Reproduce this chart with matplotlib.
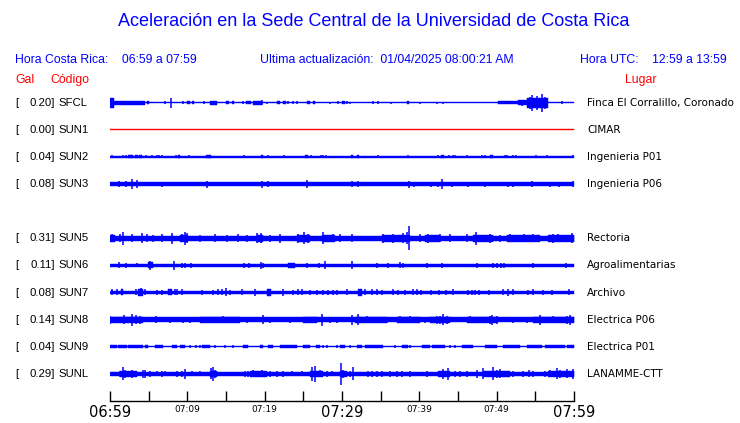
import matplotlib
matplotlib.use("Agg")
import matplotlib.pyplot as plt

W, H = 740, 423

# ---------------- data ----------------
codes = ["SFCL", "SUN1", "SUN2", "SUN3", "SUN5", "SUN6", "SUN7", "SUN8", "SUN9", "SUNL"]
gal = ["0.20", "0.00", "0.04", "0.08", "0.31", "0.11", "0.08", "0.14", "0.04", "0.29"]
places = ["Finca El Corralillo, Coronado", "CIMAR", "Ingenieria P01", "Ingenieria P06",
          "Rectoria", "Agroalimentarias", "Archivo", "Electrica P06", "Electrica P01", "LANAMME-CTT"]
rows = [0, 1, 2, 3, 5, 6, 7, 8, 9, 10]
colors = ["blue", "red", "blue", "blue", "blue", "blue", "blue", "blue", "blue", "blue"]
# half-thickness of the quiet background trace (pixels)
base_half = [0.6, 0.6, 0.6, 2.0, 2.7, 1.8, 1.8, 2.5, 0.6, 2.0]

# bursts: (start minute, end minute, half amplitude px)
sfcl_seg = [(0.0, 0.52, 5), (0.52, 4.53, 1.8), (4.74, 5.09, 1.5), (9.91, 10.34, 1.5),
            (10.56, 10.86, 1.5), (12.93, 13.79, 2), (15.0, 15.34, 1.5), (15.73, 16.03, 1.5),
            (17.59, 18.19, 1.5), (18.53, 19.61, 1.8), (21.55, 21.98, 1.5), (22.33, 22.76, 1.5),
            (25.43, 25.86, 1.5), (26.21, 26.51, 1.5), (29.96, 30.39, 1.5), (38.36, 38.66, 1.5),
            (50.17, 52.76, 1.6), (52.76, 53.9, 2.5), (53.9, 56.6, 5.0)]
sun1_seg = []
sun2_seg = [(2.37, 2.93, 1.5), (3.23, 3.58, 1.5), (3.79, 4.09, 1.5), (8.75, 9.05, 1.5),
            (12.41, 13.02, 1.5), (19.53, 19.78, 1.5), (25.22, 25.6, 1.5), (31.16, 31.46, 1.5),
            (31.9, 32.15, 1.5), (42.76, 43.23, 1.5), (49.14, 49.48, 1.5)]
sun3_seg = []
sun5_seg = [(0.0, 0.65, 3.5), (9.05, 10.13, 3.5), (18.97, 19.83, 3.5), (24.14, 25.86, 3.5),
            (27.37, 29.1, 3.5), (35.13, 38.79, 3.5), (40.73, 42.67, 3.5), (46.98, 49.57, 3.5),
            (51.29, 55.6, 3.5), (56.68, 60.0, 3.5)]
sun6_seg = [(4.96, 5.52, 3), (23.06, 23.92, 2.2)]
sun7_seg = [(1.38, 1.72, 3), (3.66, 4.22, 3.5), (7.54, 7.97, 3), (20.26, 20.78, 3.5),
            (32.11, 32.54, 3.5)]
sun8_seg = [(0.0, 4.31, 3), (11.64, 16.81, 3), (25.0, 26.72, 3), (31.68, 35.77, 3),
            (37.07, 40.09, 3), (41.38, 43.96, 3), (46.12, 50.0, 3), (54.74, 60.0, 3)]
sun9_seg = [(0.0, 0.86, 1.2), (1.08, 2.16, 1.2), (2.37, 4.31, 1.2), (4.53, 4.96, 1.2),
            (5.82, 6.9, 1.2), (7.97, 8.62, 1.2), (9.05, 9.7, 1.2), (11.85, 12.93, 1.2),
            (17.16, 17.89, 1.2), (19.4, 19.83, 1.2), (20.47, 21.12, 1.2), (21.98, 24.14, 1.2),
            (25.0, 25.86, 1.2), (26.64, 27.16, 1.2), (29.74, 30.39, 1.2), (31.9, 32.54, 1.2),
            (32.97, 35.34, 1.2), (37.71, 38.58, 1.2), (40.3, 41.38, 1.2), (41.59, 43.32, 1.6),
            (45.47, 46.98, 1.2), (48.49, 50.0, 1.2), (50.86, 53.02, 1.2), (53.88, 55.82, 1.2),
            (56.25, 58.84, 1.2), (59.05, 60.0, 1.2)]
sunl_seg = [(1.29, 3.45, 3), (12.93, 13.79, 3), (18.1, 20.26, 3), (25.86, 27.59, 3),
            (29.74, 30.6, 3), (42.46, 43.96, 3), (48.28, 51.72, 3), (56.68, 60.0, 3)]

# spikes: (minute, half amplitude px)
sfcl_spk = [(7.93, 5), (7.11, 1.5), (9.48, 1.5), (12.2, 1.5), (19.7, 2.5), (23.06, 1.5),
            (23.62, 1.5), (29.53, 1.5), (17.16, 1.5), (20.26, 1.2), (24.14, 1.5), (28.45, 1.2),
            (30.69, 1.5), (31.03, 1), (34.05, 1.5), (34.7, 1.5), (36.33, 1.2), (40.13, 1.2),
            (42.28, 1.2), (43.1, 1.2), (58.49, 1.5), (54.52, 8), (55.17, 7), (55.82, 9),
            (54.31, 6), (56.25, 6), (53.23, 3)]
sun1_spk = []
sun2_spk = [(0.26, 1.5), (1.72, 1.5), (2.07, 1.5), (4.61, 1.5), (5.47, 1.5), (6.12, 1.5),
            (6.34, 1.5), (6.68, 1.5), (8.49, 1.5), (10.26, 1.5), (17.33, 1.5), (20.47, 1.5),
            (22.54, 1.5), (25.99, 1.5), (27.28, 1.5), (27.59, 1.5), (27.89, 1.5), (34.7, 1.5),
            (38.58, 1.5), (42.37, 1.5), (43.88, 1.5), (44.4, 1.5), (44.65, 1.5), (46.16, 1.5),
            (48.15, 1.5), (48.49, 1.5), (51.08, 1.5), (51.29, 1.5), (52.07, 1.5), (52.46, 1.5),
            (55.13, 1.5), (56.55, 1.5), (59.91, 1.5)]
sun3_spk = [(1.21, 3), (2.07, 3), (2.8, 5), (3.45, 4), (6.77, 2.5), (12.59, 3.5), (19.61, 3.5),
            (20.47, 3), (25.43, 4), (31.25, 3), (32.11, 3), (38.62, 3.5), (39.31, 2.5),
            (41.46, 2.5), (42.37, 2.5), (42.97, 5), (44.27, 2.5), (46.34, 2.5), (48.53, 2.5),
            (51.51, 2.5), (52.15, 2.5), (54.61, 3), (56.94, 2.5), (58.1, 2.5), (59.83, 3)]
sun5_spk = [(0.22, 4), (1.29, 4), (1.72, 6.5), (2.8, 4), (4.09, 5), (4.83, 4), (5.6, 3.5),
            (6.68, 4), (7.97, 5.5), (9.27, 4), (9.7, 6.5), (10.0, 5), (11.64, 3.5), (13.58, 4),
            (15.09, 3.5), (16.6, 4), (17.67, 3.5), (18.97, 5), (19.48, 5), (20.69, 3.5),
            (21.98, 4.5), (24.35, 4.5), (25.09, 6), (25.65, 4.5), (27.59, 6), (28.88, 4),
            (29.74, 4), (31.25, 4), (35.34, 4.5), (36.64, 4.5), (37.93, 5), (38.36, 6),
            (38.71, 12), (40.09, 4), (41.16, 4.5), (42.67, 4), (43.96, 4), (46.12, 4),
            (47.33, 6.5), (49.14, 4.5), (50.43, 3.5), (51.72, 4), (53.53, 4), (54.74, 4),
            (57.33, 4.5), (57.97, 4), (59.7, 5)]
sun6_spk = [(1.16, 3), (2.07, 2.5), (3.53, 2), (5.17, 4.5), (8.28, 4.5), (9.27, 2.5),
            (9.74, 2.5), (10.47, 2.5), (17.33, 2.5), (17.97, 2.5), (19.53, 3.5), (19.83, 2.5),
            (25.52, 2.5), (27.07, 2.5), (27.8, 4), (31.25, 4), (34.48, 2.2), (35.99, 2.2),
            (37.5, 3), (37.84, 2.5), (40.95, 2.5), (42.89, 2.5), (47.5, 2.5), (49.57, 2.5),
            (50.09, 2.5), (50.56, 2.5), (50.99, 2.5), (54.74, 2.5), (58.96, 2.5)]
sun7_spk = [(0.22, 3), (0.86, 3), (3.36, 3), (3.97, 4), (4.53, 3), (6.03, 2.5), (6.68, 2.5),
            (8.41, 3), (8.71, 3), (9.27, 3), (11.85, 2.5), (13.36, 2.5), (14.01, 3), (14.44, 3),
            (14.96, 4), (15.52, 2.5), (17.03, 3), (18.75, 3.5), (22.41, 3.5), (23.71, 2.5),
            (24.35, 3), (24.78, 3), (25.86, 2.5), (26.72, 2.5), (27.5, 2.5), (28.23, 2.5),
            (28.88, 2.5), (29.4, 2.5), (30.6, 3), (32.97, 3), (33.84, 3), (34.48, 3),
            (35.13, 2.5), (36.55, 3), (37.28, 2.5), (38.15, 2.5), (39.22, 3), (39.74, 3),
            (40.17, 2.5), (41.46, 2.5), (42.59, 2.5), (43.45, 2.5), (44.4, 3), (46.34, 2.5),
            (46.77, 2.5), (47.2, 2.5), (47.76, 2.5), (49.05, 2.5), (50.86, 3), (51.42, 3.5),
            (52.15, 3), (54.09, 2.5), (54.74, 3), (56.03, 2.5), (57.11, 2.5), (59.4, 3)]
sun8_spk = [(0.0, 4), (1.81, 4.5), (2.8, 6), (3.36, 4.5), (3.88, 4), (5.95, 3.5), (7.76, 3),
            (9.48, 3), (10.34, 3), (12.93, 3), (13.88, 3), (14.66, 3.5), (16.47, 3), (17.67, 3),
            (19.74, 4.5), (20.69, 3), (23.28, 3), (25.09, 3), (25.86, 3), (27.37, 6),
            (28.45, 3), (29.31, 3), (31.25, 5), (32.11, 5.5), (33.19, 3.5), (35.77, 3),
            (37.5, 3.5), (38.79, 3.5), (40.73, 3), (42.24, 4), (42.67, 4), (43.1, 5.5),
            (43.53, 4), (46.55, 3.5), (47.84, 3), (49.14, 4), (49.35, 5), (50.0, 4),
            (52.15, 3), (53.88, 3), (55.6, 5), (57.33, 3.5), (59.05, 4), (59.48, 5)]
sun9_spk = [(6.25, 1.2), (10.3, 1.2), (11.1, 1.2), (11.6, 1.2), (13.58, 1.2), (14.9, 1.2),
            (15.95, 1.2), (19.6, 1.8), (27.5, 1.2), (28.0, 1.2), (29.4, 1.2), (31.03, 1.2),
            (36.8, 1.2), (38.8, 1.2), (44.0, 1.2), (44.6, 1.2)]
sunl_spk = [(1.29, 3), (1.72, 6.5), (1.94, 4), (2.8, 4), (4.31, 4), (4.53, 4), (5.17, 3),
            (6.03, 2.5), (6.68, 3), (7.11, 2.5), (8.62, 3), (9.27, 3), (9.7, 5), (10.56, 2.5),
            (11.64, 2.5), (13.06, 5.5), (13.28, 7), (13.58, 4), (17.46, 3), (17.89, 3),
            (18.45, 3.5), (18.97, 3), (19.61, 3.5), (20.17, 3), (20.69, 3), (21.55, 3),
            (22.33, 3), (23.49, 2.5), (24.78, 2.5), (26.08, 7), (26.51, 8), (27.16, 3.5),
            (28.02, 3), (28.67, 2.5), (29.87, 11), (30.17, 4), (31.03, 3), (31.46, 6.5),
            (33.4, 3), (33.84, 3), (34.48, 3), (35.13, 3), (36.2, 3), (37.07, 3), (37.71, 3),
            (38.79, 3), (41.0, 3), (42.67, 3), (43.1, 5), (43.75, 6), (44.61, 3), (45.26, 3),
            (46.12, 3), (47.41, 4), (48.19, 5.5), (48.71, 3), (49.57, 6.5), (50.0, 4),
            (50.43, 4.5), (51.29, 3), (52.15, 3), (53.45, 3), (54.18, 3.5), (54.74, 3),
            (56.25, 3), (56.9, 3.5), (57.76, 5.5), (58.19, 4), (59.05, 4.5), (59.91, 5)]

segments = [sfcl_seg, sun1_seg, sun2_seg, sun3_seg, sun5_seg, sun6_seg, sun7_seg, sun8_seg, sun9_seg, sunl_seg]
spikes = [sfcl_spk, sun1_spk, sun2_spk, sun3_spk, sun5_spk, sun6_spk, sun7_spk, sun8_spk, sun9_spk, sunl_spk]

tick_minutes = list(range(0, 61, 5))
tick_labels = {0: "06:59", 10: "07:09", 20: "07:19", 30: "07:29", 40: "07:39", 50: "07:49", 60: "07:59"}
big_labels = [0, 30, 60]

# ---------------- layout ----------------
BLUE = "#0000ff"
RED = "#ff0000"
X0, X1 = 110, 574          # trace x extent (pixels)
ROW0, ROWSTEP = 102.8, 27.1

fig = plt.figure(figsize=(W / 100, H / 100), dpi=100)
fig.patch.set_facecolor("white")


def fx(px):
    return px / W


def fy(py):
    return 1 - py / H


HDR = "Liberation Sans"
HS = 8.8
fig.text(fx(374), fy(22), "Aceleración en la Sede Central de la Universidad de Costa Rica",
         ha="center", va="center", color=BLUE, fontsize=13, family=HDR)
fig.text(fx(15), fy(60), "Hora Costa Rica:    06:59 a 07:59", ha="left", va="center",
         color=BLUE, fontsize=HS, family=HDR)
fig.text(fx(260), fy(60), "Ultima actualización:  01/04/2025 08:00:21 AM", ha="left", va="center",
         color=BLUE, fontsize=HS, family=HDR)
fig.text(fx(580), fy(60), "Hora UTC:    12:59 a 13:59", ha="left", va="center",
         color=BLUE, fontsize=HS, family=HDR)
fig.text(fx(15), fy(80), "Gal", ha="left", va="center", color=RED, fontsize=HS, family=HDR)
fig.text(fx(50), fy(80), "Código", ha="left", va="center", color=RED, fontsize=HS, family=HDR)
fig.text(fx(641), fy(80), "Lugar", ha="center", va="center", color=RED, fontsize=HS, family=HDR)

# trace axes: x in minutes, y in pixel units (inverted)
ax = fig.add_axes([fx(X0), 0, fx(X1) - fx(X0), 1])
ax.set_xlim(0, 60)
ax.set_ylim(H, 0)
ax.axis("off")

for code, g, place, r, col, bh, segs, spks in zip(codes, gal, places, rows, colors,
                                                    base_half, segments, spikes):
    yc = ROW0 + ROWSTEP * r
    ax.fill_between([0, 60], yc - bh, yc + bh, color=col, linewidth=0.3)
    for s, e, h in segs:
        ax.fill_between([s, e], yc - h, yc + h, color=col, linewidth=0.3)
    if spks:
        xs = [p[0] for p in spks]
        hs = [p[1] for p in spks]
        ax.vlines(xs, [yc - h for h in hs], [yc + h for h in hs], color=col, linewidth=1.1)
    # labels
    fig.text(fx(15), fy(yc), "[", ha="left", va="center", color="black", fontsize=8.2, family=HDR)
    fig.text(fx(55), fy(yc), g + "]", ha="right", va="center", color="black", fontsize=8.2, family=HDR)
    fig.text(fx(58), fy(yc), code, ha="left", va="center", color="black", fontsize=8.2, family=HDR)
    fig.text(fx(587), fy(yc), place, ha="left", va="center", color="black", fontsize=7.5,
             family="DejaVu Sans")

# time axis
tax = fig.add_axes([fx(X0), fy(401), fx(X1) - fx(X0), 0.001])
tax.set_xlim(0, 60)
tax.set_yticks([])
for s in ["top", "left", "right"]:
    tax.spines[s].set_visible(False)
tax.spines["bottom"].set_linewidth(1.0)
tax.set_xticks(tick_minutes)
tax.set_xticklabels([tick_labels.get(m, "") for m in tick_minutes])
tax.tick_params(axis="x", direction="in", length=7.2, width=1.0, pad=3, labelsize=6.5)
tax.patch.set_alpha(0)
for m, lab in zip(tick_minutes, tax.get_xticklabels()):
    if m in big_labels:
        lab.set_fontsize(10.5)
        lab.set_family("DejaVu Sans")

fig.savefig("out.png", dpi=100, facecolor="white")
